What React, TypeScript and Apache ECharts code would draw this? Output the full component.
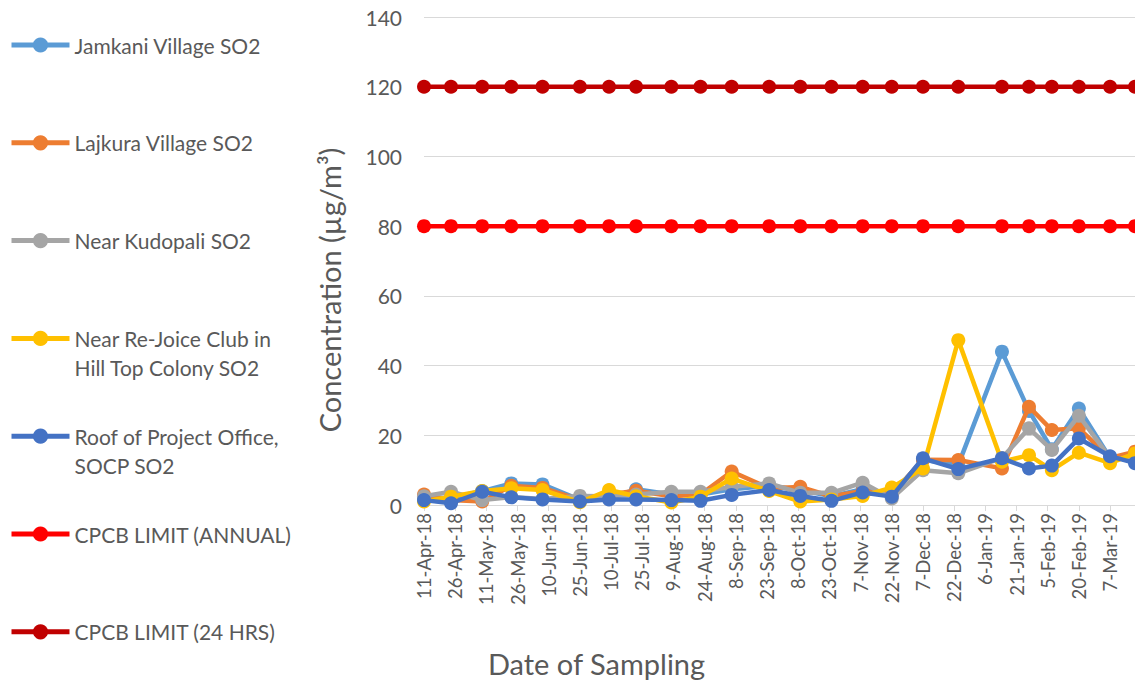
import React, { useEffect, useRef } from 'react';
import * as echarts from 'echarts';

// ---- Data ----
const sampleDates = [
  '11-Apr-18', '24-Apr-18', '9-May-18', '23-May-18', '7-Jun-18', '25-Jun-18',
  '9-Jul-18', '22-Jul-18', '8-Aug-18', '22-Aug-18', '6-Sep-18', '24-Sep-18',
  '9-Oct-18', '24-Oct-18', '8-Nov-18', '22-Nov-18', '7-Dec-18', '24-Dec-18',
  '14-Jan-19', '27-Jan-19', '7-Feb-19', '20-Feb-19', '7-Mar-19', '19-Mar-19',
];

const jamkani = [2, 2, 4, 6.2, 5.9, 1.5, 2, 4.5, 3, 3, 4.5, 5.5, 4.3, 2.5, 4.5, 3, 13, 11.5, 44, 27, 16, 27.7, 13.5, 13];
const lajkura = [3, 1.4, 1.0, 5.5, 4.9, 1.5, 3, 4.1, 2.5, 3, 9.6, 4.8, 5.2, 2.5, 4, 3, 13, 12.9, 10.5, 28.2, 21.5, 22, 13.5, 15.3];
const kudopali = [2.5, 3.8, 1.4, 2.3, 1.7, 2.6, 2.5, 3, 3.8, 3.8, 5.2, 6.2, 3.5, 3.5, 6.4, 1.9, 10, 9.1, 13.5, 22, 15.8, 25.6, 13.5, 13];
const reJoice = [1, 2.4, 4, 4.8, 4.3, 0.8, 4.3, 2.5, 0.7, 2.4, 7.6, 4, 1.0, 1.6, 2.6, 5.0, 10.5, 47.3, 12.4, 14.3, 10.0, 15.0, 12.0, 14.8];
const roofOffice = [1.4, 0.5, 3.8, 2.2, 1.6, 1.0, 1.6, 1.6, 1.4, 1.2, 2.9, 4.3, 2.6, 1.2, 3.6, 2.4, 13.4, 10.3, 13.4, 10.5, 11.3, 19.1, 14.0, 12];
const annualLimit = [80, 80, 80, 80, 80, 80, 80, 80, 80, 80, 80, 80, 80, 80, 80, 80, 80, 80, 80, 80, 80, 80, 80, 80];
const dailyLimit = [120, 120, 120, 120, 120, 120, 120, 120, 120, 120, 120, 120, 120, 120, 120, 120, 120, 120, 120, 120, 120, 120, 120, 120];

const seriesNames = [
  'Jamkani Village SO2',
  'Lajkura Village SO2',
  'Near Kudopali SO2',
  'Near Re-Joice Club in Hill Top Colony SO2',
  'Roof of Project Office, SOCP SO2',
  'CPCB LIMIT (ANNUAL)',
  'CPCB LIMIT (24 HRS)',
];
const legendLines = [
  ['Jamkani Village SO2'],
  ['Lajkura Village SO2'],
  ['Near Kudopali SO2'],
  ['Near Re-Joice Club in', 'Hill Top Colony SO2'],
  ['Roof of Project Office,', 'SOCP SO2'],
  ['CPCB LIMIT (ANNUAL)'],
  ['CPCB LIMIT (24 HRS)'],
];
const seriesValues = [jamkani, lajkura, kudopali, reJoice, roofOffice, annualLimit, dailyLimit];

const yTicks = { min: 0, max: 140, interval: 20 };
const xTickDays = 15;
const xAxisTitle = 'Date of Sampling';
const yAxisTitle = 'Concentration (µg/m³)';

// ---- Styles ----
const colors = ['#5B9BD5', '#ED7D31', '#A5A5A5', '#FFC000', '#4472C4', '#FF0000', '#C00000'];
const FONT = 'Lato, "Open Sans", sans-serif';
const TEXT = '#595959';

const MONTHS = ['Jan', 'Feb', 'Mar', 'Apr', 'May', 'Jun', 'Jul', 'Aug', 'Sep', 'Oct', 'Nov', 'Dec'];
const DAY = 86400000;
function parseDate(s: string): number {
  const [d, m, y] = s.split('-');
  return Date.UTC(2000 + Number(y), MONTHS.indexOf(m), Number(d));
}
const t0 = parseDate(sampleDates[0]);
const dayOf = (s: string) => Math.round((parseDate(s) - t0) / DAY);
function fmtDay(v: number): string {
  const dt = new Date(t0 + Math.round(v) * DAY);
  return `${dt.getUTCDate()}-${MONTHS[dt.getUTCMonth()]}-${String(dt.getUTCFullYear()).slice(2)}`;
}

export default function App() {
  const ref = useRef<HTMLDivElement>(null);
  useEffect(() => {
    if (!ref.current) return;
    const chart = echarts.init(ref.current, undefined, { renderer: 'svg' });
    const lineH = 29;
    const legends = seriesNames.map((name, i) => {
      const lines = legendLines[i];
      const twoLine = lines.length > 1;
      const center = 45 + i * 97.8;
      // for two-line entries an empty first line keeps the icon on the first text line
      const label = twoLine ? '\n' + lines.join('\n') : lines[0];
      return {
        data: [name],
        orient: 'vertical',
        left: 9,
        top: center - (twoLine ? 1.5 * lineH : 0.5 * lineH),
        padding: 0,
        itemWidth: 58,
        itemHeight: 19,
        itemGap: 0,
        formatter: () => label,
        lineStyle: { width: 5 },
        textStyle: {
          color: TEXT,
          fontSize: 21,
          fontFamily: FONT,
          lineHeight: lineH,
        },
      };
    });
    chart.setOption({
      animation: false,
      backgroundColor: '#ffffff',
      legend: legends,
      grid: { left: 424, right: 0, top: 17, bottom: 182, containLabel: false },
      xAxis: {
        type: 'value',
        min: 0,
        max: dayOf(sampleDates[sampleDates.length - 1]),
        interval: xTickDays,
        name: xAxisTitle,
        nameLocation: 'middle',
        nameGap: 144,
        nameTextStyle: { fontSize: 29, color: TEXT, fontFamily: FONT, padding: [0, 366, 0, 0] },
        axisLine: { show: true, lineStyle: { color: '#D9D9D9', width: 1 } },
        axisTick: { show: true, length: 6, lineStyle: { color: '#D9D9D9' } },
        splitLine: { show: false },
        axisLabel: {
          rotate: 90,
          margin: 8,
          fontSize: 18.5,
          color: TEXT,
          fontFamily: FONT,
          showMaxLabel: false,
          formatter: (v: number) => fmtDay(v),
        },
      },
      yAxis: {
        type: 'value',
        min: yTicks.min,
        max: yTicks.max,
        interval: yTicks.interval,
        name: yAxisTitle,
        nameLocation: 'middle',
        nameGap: 80,
        nameTextStyle: { fontSize: 29, color: TEXT, fontFamily: FONT, padding: [0, 58, 0, 0] },
        axisLine: { show: false },
        axisTick: { show: false },
        splitLine: { lineStyle: { color: '#D9D9D9', width: 1 } },
        axisLabel: { fontSize: 21, color: TEXT, fontFamily: FONT, margin: 22 },
      },
      series: seriesNames.map((name, i) => ({
        name,
        type: 'line',
        data: sampleDates.map((d, j) => [dayOf(d), seriesValues[i][j]]),
        symbol: 'circle',
        symbolSize: 14,
        showSymbol: true,
        clip: false,
        lineStyle: { color: colors[i], width: 4.5 },
        itemStyle: { color: colors[i] },
        z: 2 + i,
      })),
    });
    return () => chart.dispose();
  }, []);
  return (
    <div
      ref={ref}
      style={{ position: 'absolute', left: 0, top: 0, width: 1135, height: 687 }}
    />
  );
}
